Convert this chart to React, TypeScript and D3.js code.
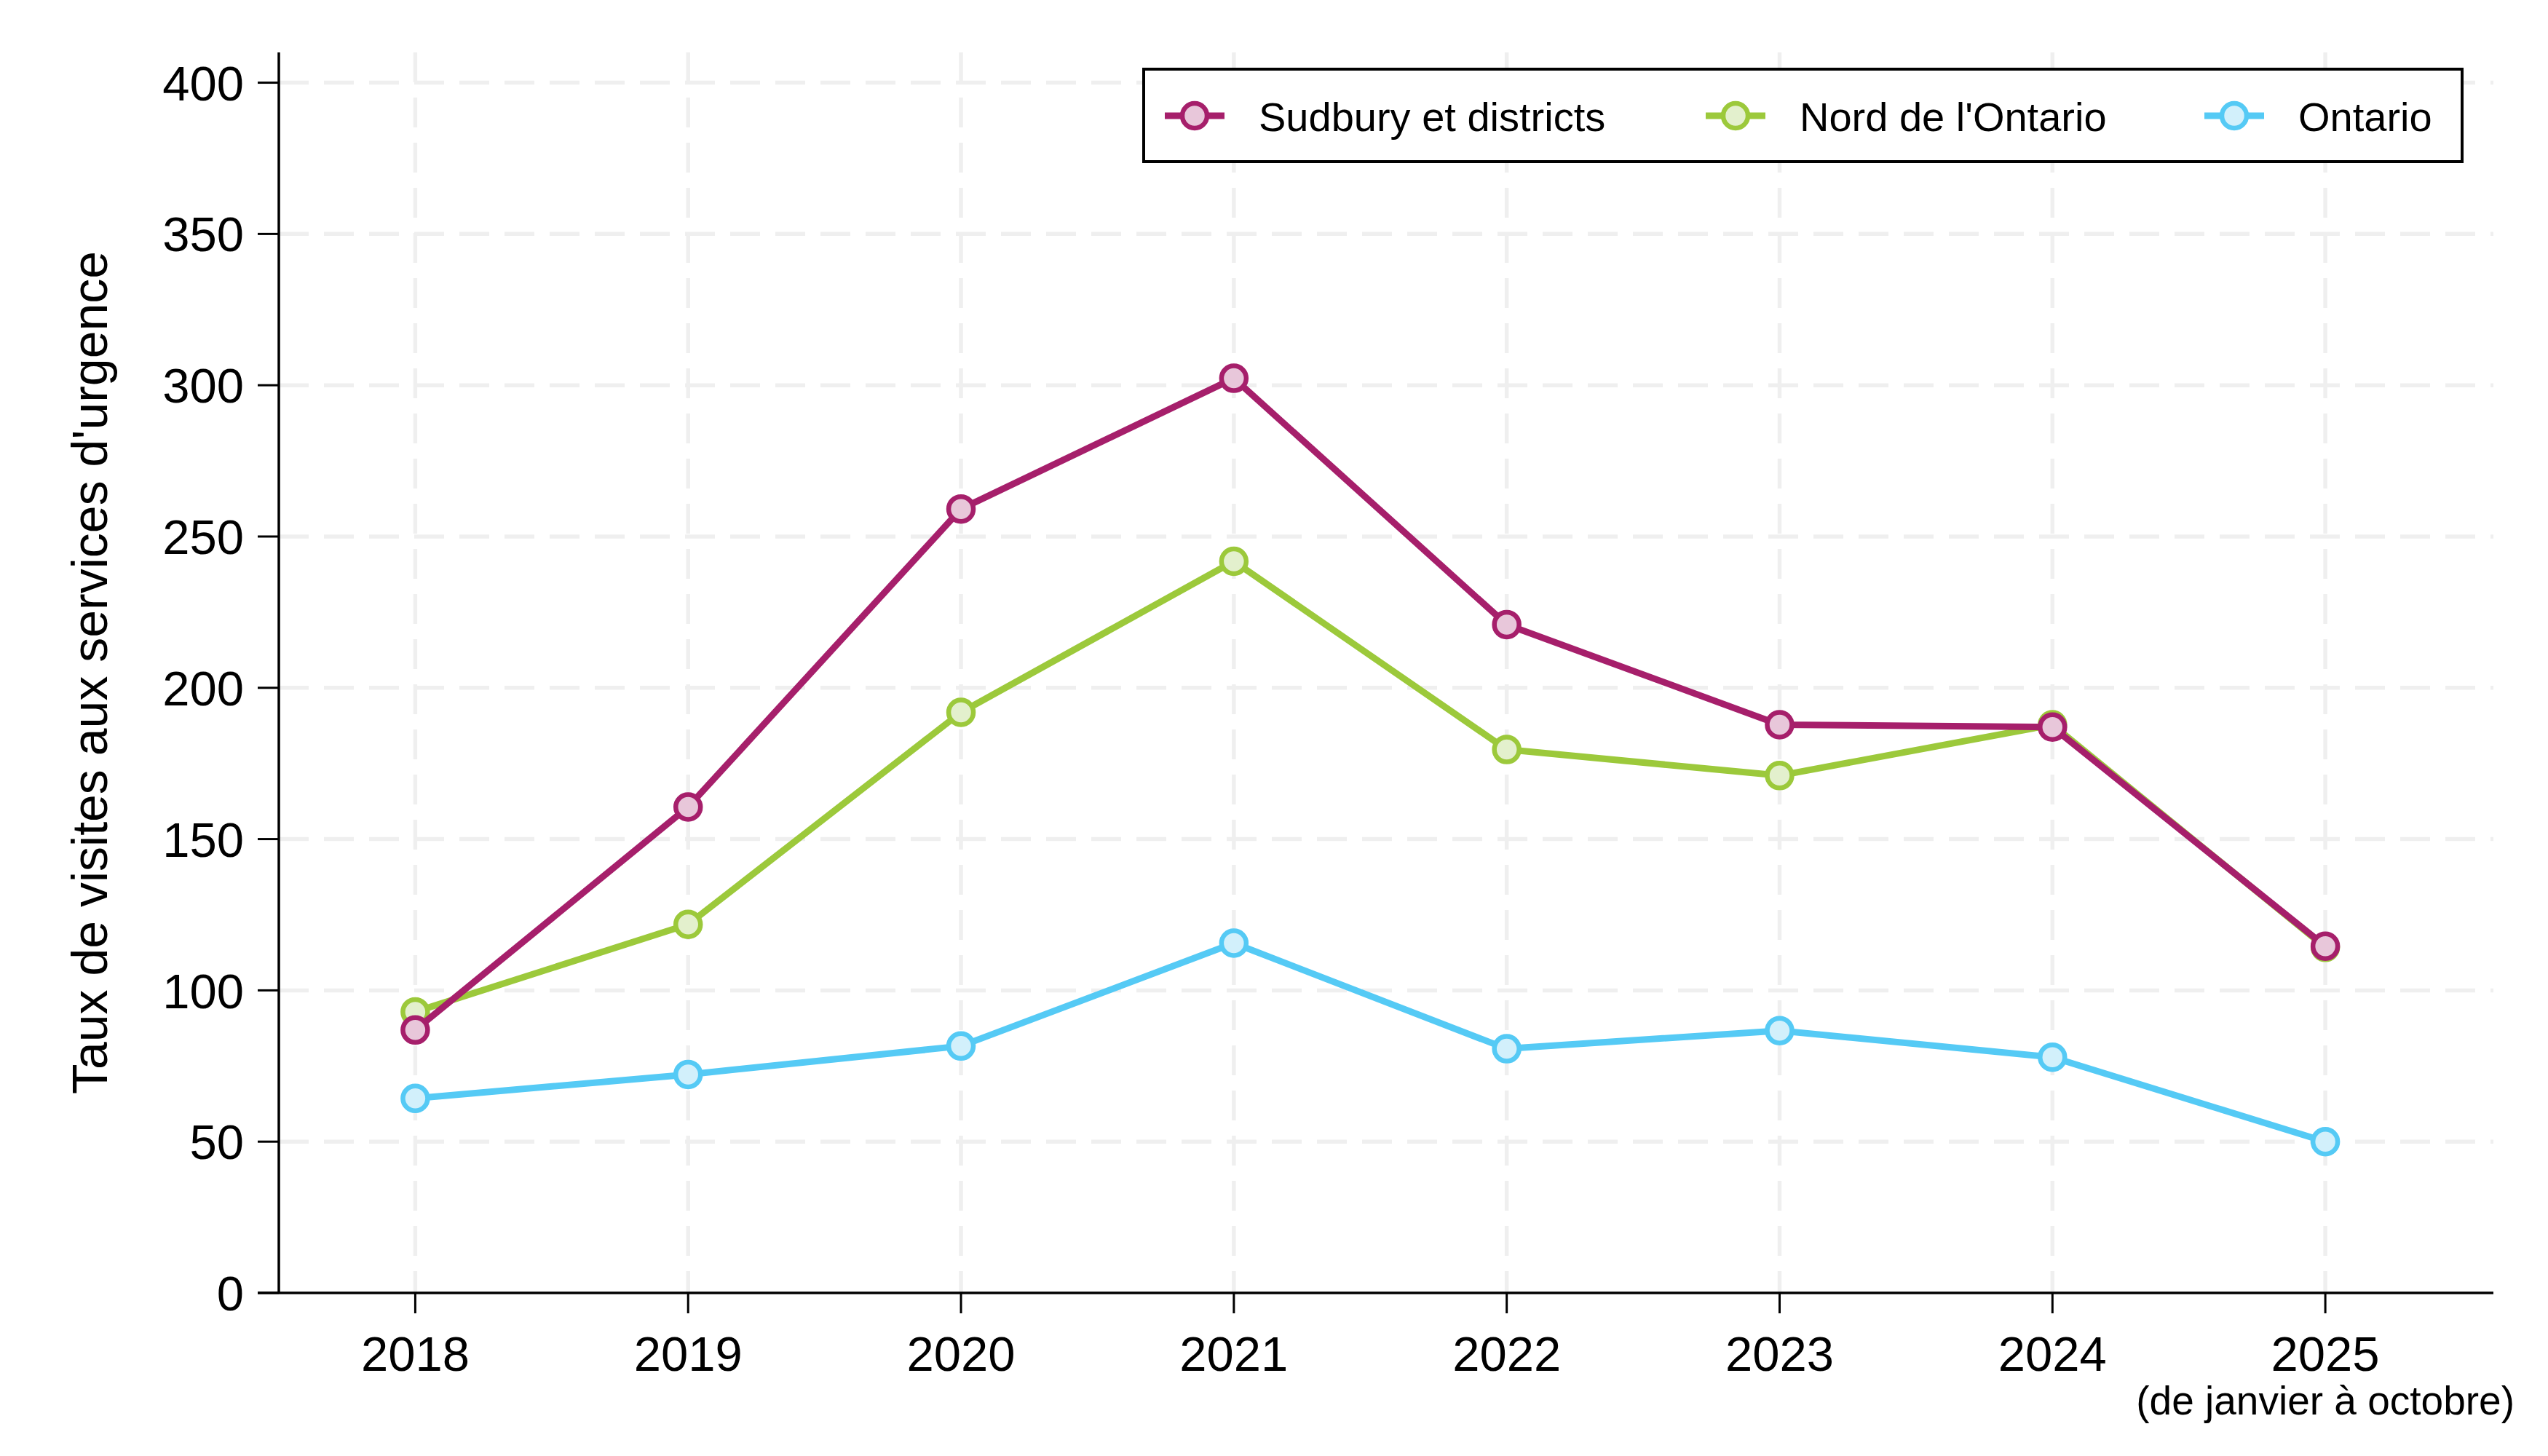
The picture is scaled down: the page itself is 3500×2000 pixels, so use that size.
import { useEffect, useRef } from 'react';
import * as d3 from 'd3';

const years = [2018, 2019, 2020, 2021, 2022, 2023, 2024, 2025];
const sudbury = [86.9, 160.6, 259.1, 302.3, 220.9, 187.8, 187.0, 114.6];
const nordOntario = [92.9, 121.8, 191.9, 241.8, 179.6, 171.0, 187.8, 114.2];
const ontario = [64.3, 72.2, 81.6, 115.6, 80.7, 86.7, 77.9, 50.0];
const yTicks = [0, 50, 100, 150, 200, 250, 300, 350, 400];
const seriesNames = ['Sudbury et districts', "Nord de l'Ontario", 'Ontario'];
const yTitle = "Taux de visites aux services d'urgence";
const lastYearNote = '(de janvier à octobre)';

const FONT = "'Liberation Sans', Arial, sans-serif";

export default function App() {
  const svgRef = useRef<SVGSVGElement>(null);

  useEffect(() => {
    if (!svgRef.current) return;
    const svg = d3.select(svgRef.current);
    svg.selectAll('*').remove();

    const left = 383;
    const right = 3425;
    const top = 72;
    const bottom = 1776;

    const x = d3.scaleLinear().domain([2017.5, 2025.616]).range([left, right]);
    const y = d3.scaleLinear().domain([0, 410]).range([bottom, top]);

    // series in legend order; drawn reversed so Sudbury ends on top
    const series = [
      { name: seriesNames[0], values: sudbury, stroke: '#a61f6b', fill: '#e8c7da' },
      { name: seriesNames[1], values: nordOntario, stroke: '#9cc93b', fill: '#e3f0cd' },
      { name: seriesNames[2], values: ontario, stroke: '#55caf5', fill: '#d2f0fb' },
    ];

    // grid
    const grid = svg.append('g').attr('stroke', '#efefef').attr('stroke-width', 5.5).attr('stroke-dasharray', '41,21');
    yTicks.filter(t => t > 0).forEach(t => {
      grid.append('line')
        .attr('x1', left).attr('x2', right)
        .attr('y1', y(t)).attr('y2', y(t));
    });
    years.forEach(yr => {
      grid.append('line')
        .attr('x1', x(yr)).attr('x2', x(yr))
        .attr('y1', top).attr('y2', bottom);
    });

    // axes
    const axes = svg.append('g').attr('stroke', '#000');
    axes.append('line').attr('x1', left).attr('x2', left).attr('y1', top).attr('y2', bottom).attr('stroke-width', 3.5);
    axes.append('line').attr('x1', left - 29).attr('x2', right).attr('y1', bottom).attr('y2', bottom).attr('stroke-width', 3.5);

    yTicks.forEach(t => {
      axes.append('line')
        .attr('x1', left - 29).attr('x2', left)
        .attr('y1', y(t)).attr('y2', y(t))
        .attr('stroke-width', 3);
      svg.append('text')
        .attr('x', left - 48)
        .attr('y', y(t))
        .attr('dy', '0.36em')
        .attr('text-anchor', 'end')
        .style('font-family', FONT)
        .style('font-size', '67px')
        .text(t);
    });

    years.forEach(yr => {
      axes.append('line')
        .attr('x1', x(yr)).attr('x2', x(yr))
        .attr('y1', bottom).attr('y2', bottom + 28)
        .attr('stroke-width', 3);
      svg.append('text')
        .attr('x', x(yr))
        .attr('y', 1883)
        .attr('text-anchor', 'middle')
        .style('font-family', FONT)
        .style('font-size', '67px')
        .text(yr);
    });

    svg.append('text')
      .attr('x', x(years[years.length - 1]))
      .attr('y', 1943)
      .attr('text-anchor', 'middle')
      .style('font-family', FONT)
      .style('font-size', '55px')
      .text(lastYearNote);

    svg.append('text')
      .attr('transform', `translate(147, ${(top + bottom) / 2}) rotate(-90)`)
      .attr('text-anchor', 'middle')
      .style('font-family', FONT)
      .style('font-size', '68px')
      .text(yTitle);

    // lines + markers
    const line = d3.line<number>()
      .x((_, i) => x(years[i]))
      .y(d => y(d));

    [...series].reverse().forEach(s => {
      const g = svg.append('g');
      g.append('path')
        .datum(s.values)
        .attr('d', line)
        .attr('fill', 'none')
        .attr('stroke', s.stroke)
        .attr('stroke-width', 9)
        .attr('stroke-linejoin', 'round');
      g.selectAll('circle')
        .data(s.values)
        .enter()
        .append('circle')
        .attr('cx', (_, i) => x(years[i]))
        .attr('cy', d => y(d))
        .attr('r', 17)
        .attr('fill', s.fill)
        .attr('stroke', s.stroke)
        .attr('stroke-width', 6.5);
    });

    // legend
    const legend = svg.append('g');
    legend.append('rect')
      .attr('x', 1571).attr('y', 95)
      .attr('width', 1811).attr('height', 127)
      .attr('fill', '#fff')
      .attr('stroke', '#000')
      .attr('stroke-width', 4);

    const itemX = [1641, 2384, 3069];
    series.forEach((s, i) => {
      const cx = itemX[i];
      legend.append('line')
        .attr('x1', cx - 41).attr('x2', cx + 41)
        .attr('y1', 159).attr('y2', 159)
        .attr('stroke', s.stroke)
        .attr('stroke-width', 9);
      legend.append('circle')
        .attr('cx', cx).attr('cy', 159).attr('r', 17)
        .attr('fill', s.fill)
        .attr('stroke', s.stroke)
        .attr('stroke-width', 6.5);
      legend.append('text')
        .attr('x', cx + 88)
        .attr('y', 180)
        .style('font-family', FONT)
        .style('font-size', '56px')
        .text(s.name);
    });
  }, []);

  return (
    <svg
      ref={svgRef}
      width={3500}
      height={2000}
      style={{ position: 'absolute', left: 0, top: 0, background: '#fff' }}
    />
  );
}
